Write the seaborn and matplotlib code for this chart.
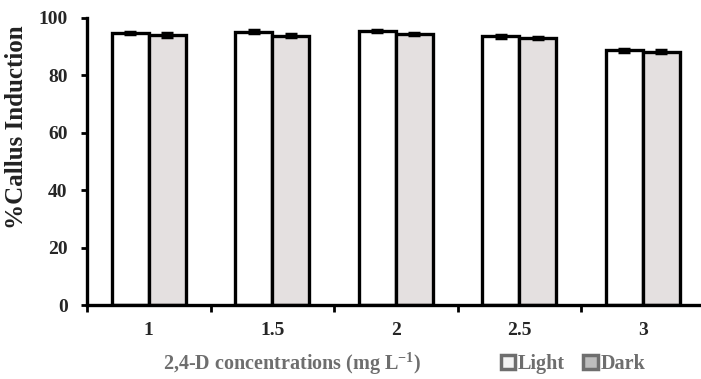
import matplotlib
matplotlib.use("Agg")
import matplotlib.pyplot as plt
from matplotlib.patches import Patch
import seaborn as sns
import pandas as pd
import numpy as np

# 2,4-D concentrations (mg/L) and callus induction (%) under light / dark
concentrations = ["1", "1.5", "2", "2.5", "3"]
light_values = [94.8, 95.2, 95.4, 93.6, 88.8]
dark_values = [94.1, 93.9, 94.5, 93.1, 88.3]
light_err = [0.4, 0.6, 0.3, 0.5, 0.5]
dark_err = [0.6, 0.5, 0.3, 0.3, 0.4]
conditions = ["Light", "Dark"]
y_ticks = [0, 20, 40, 60, 80, 100]

df = pd.DataFrame({
    "conc": concentrations * 2,
    "cond": ["Light"] * len(concentrations) + ["Dark"] * len(concentrations),
    "value": light_values + dark_values,
    "err": light_err + dark_err,
})

sns.set_theme(style="white")
plt.rcParams["font.family"] = ["Liberation Serif", "DejaVu Serif"]
plt.rcParams["font.weight"] = "bold"

fig = plt.figure(figsize=(7.01, 3.79), dpi=100)
ax = fig.add_axes([87 / 701, (379 - 305) / 379, 617.5 / 701, (305 - 18) / 379])

fill_light = "#ffffff"
fill_dark = "#e4e0e0"
sns.barplot(data=df, x="conc", y="value", hue="cond", hue_order=conditions,
            order=concentrations, palette=[fill_light, fill_dark],
            width=0.6, gap=0, edgecolor="black", linewidth=2.4,
            errorbar=None, legend=False, ax=ax, saturation=1)

# error bars on top of each bar
for container, cond in zip(ax.containers, conditions):
    sub = df[df["cond"] == cond].set_index("conc").loc[concentrations]
    xs = [p.get_x() + p.get_width() / 2 for p in container.patches]
    ax.errorbar(xs, sub["value"].values, yerr=sub["err"].values, fmt="none",
                ecolor="black", elinewidth=3, capsize=4, capthick=2.5, zorder=5)

tick_size = 14
ax.set_ylim(0, 100)
ax.set_xlim(-0.5, 4.5)
ax.set_yticks(y_ticks)
ax.set_yticklabels([str(t) for t in y_ticks], fontsize=tick_size, fontweight="bold")
ax.set_xticklabels(concentrations, fontsize=tick_size, fontweight="bold")
ax.tick_params(axis="x", length=0, pad=12)
ax.tick_params(axis="y", length=4, width=2, direction="out", color="black", pad=10, left=True)
# minor ticks between concentration groups
ax.set_xticks(np.arange(-0.5, 4.6, 1.0), minor=True)
ax.tick_params(axis="x", which="minor", length=5, width=2, direction="out", bottom=True, color="black")

for side in ["top", "right"]:
    ax.spines[side].set_visible(False)
for side in ["left", "bottom"]:
    ax.spines[side].set_color("black")
    ax.spines[side].set_linewidth(2.4)

ax.set_ylabel("%Callus Induction", fontsize=18, fontweight="bold", color="#222222")
ax.yaxis.set_label_coords(-0.095, 0.62)
ax.set_xlabel("")

gray = "#6e6e6e"
text_size = 14.5
fig.text(292 / 701, 1 - 364 / 379, "2,4-D concentrations (mg L$^{\\mathregular{-1}}$)",
         ha="center", va="center", fontsize=text_size, fontweight="bold", color=gray)

handles = [Patch(facecolor="#f4f4f4", edgecolor=gray, linewidth=2.5, label="Light"),
           Patch(facecolor="#bdbdbd", edgecolor=gray, linewidth=2.5, label="Dark")]
leg = fig.legend(handles=handles, loc="center left", bbox_to_anchor=(491 / 701, 1 - 364 / 379),
                 ncol=2, frameon=False, handlelength=0.7, handleheight=0.7,
                 handletextpad=0.15, columnspacing=0.9, borderpad=0,
                 prop={"family": "Liberation Serif", "weight": "bold", "size": text_size})
for t in leg.get_texts():
    t.set_color(gray)

fig.savefig("out.png", dpi=100)
